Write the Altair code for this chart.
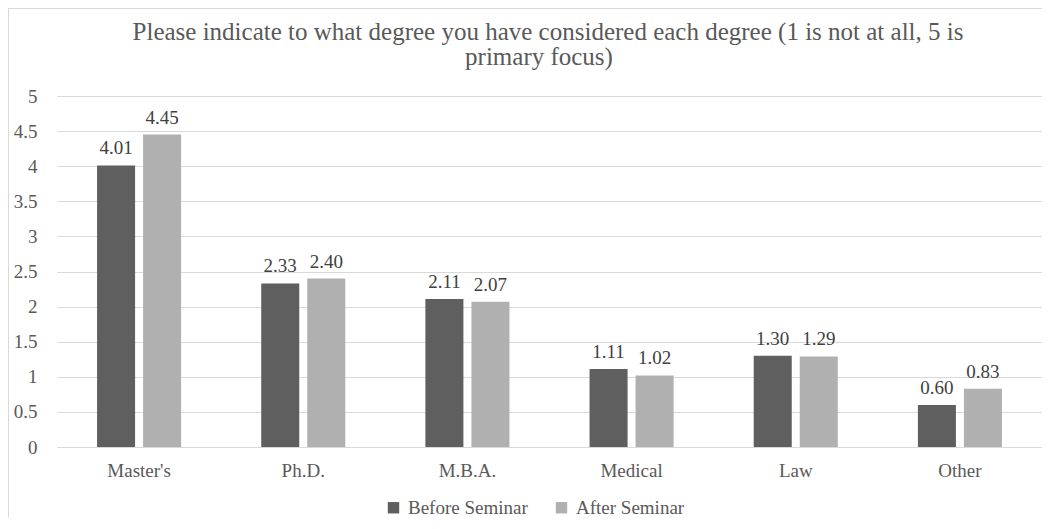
import altair as alt
import pandas as pd

categories = ["Master's", "Ph.D.", "M.B.A.", "Medical", "Law", "Other"]
series = ["Before Seminar", "After Seminar"]
before = [4.01, 2.33, 2.11, 1.11, 1.30, 0.60]
after = [4.45, 2.40, 2.07, 1.02, 1.29, 0.83]
y_ticks = [0, 0.5, 1, 1.5, 2, 2.5, 3, 3.5, 4, 4.5, 5]
title_lines = ["Please indicate to what degree you have considered each degree (1 is not at all, 5 is",
               "primary focus)"]

rows = []
for c, b, a in zip(categories, before, after):
    rows.append({"cat": c, "series": series[0], "value": b})
    rows.append({"cat": c, "series": series[1], "value": a})
df = pd.DataFrame(rows)

FONT = "'Liberation Serif', 'Times New Roman', serif"

x = alt.X("cat:N", sort=categories, title=None,
          scale=alt.Scale(paddingInner=0.488, paddingOuter=0.244),
          axis=alt.Axis(labelAngle=0, labelFontSize=19, labelColor="#595959",
                        labelFont=FONT, ticks=False, domain=False, labelPadding=14))
xo = alt.XOffset("series:N", sort=series,
                 scale=alt.Scale(paddingInner=0.174, paddingOuter=0))
y = alt.Y("value:Q", title=None,
          scale=alt.Scale(domain=[0, 5], nice=False),
          axis=alt.Axis(values=y_ticks, format=".1~f", labelFontSize=19,
                        labelColor="#595959", labelFont=FONT, ticks=False,
                        domain=False, labelPadding=20, gridColor="#d9d9d9"))

color = alt.Color("series:N", sort=series, title=None,
                  scale=alt.Scale(domain=series, range=["#5f5f5f", "#b0b0b0"]),
                  legend=alt.Legend(orient="none", legendX=327, legendY=402,
                                    direction="horizontal", symbolType="square",
                                    symbolSize=130, symbolStrokeWidth=0,
                                    labelFontSize=19, labelFont=FONT,
                                    labelColor="#595959", labelOffset=5,
                                    columnPadding=24))

bars = alt.Chart(df).mark_bar().encode(x=x, xOffset=xo, y=y, color=color)
labels = alt.Chart(df).mark_text(baseline="alphabetic", dy=-11, fontSize=19,
                                 font=FONT, color="#404040").encode(
    x=x, xOffset=xo, y=y, text=alt.Text("value:Q", format=".2f"))

title_df = pd.DataFrame({"t": title_lines, "line": [0, 1]})
title1 = alt.Chart(title_df).transform_filter("datum.line == 0").mark_text(
    font=FONT, fontSize=25, color="#595959", baseline="alphabetic", align="center",
    clip=False).encode(x=alt.value(491), y=alt.value(-56), text="t:N")
title2 = alt.Chart(title_df).transform_filter("datum.line == 1").mark_text(
    font=FONT, fontSize=25, color="#595959", baseline="alphabetic", align="center",
    clip=False).encode(x=alt.value(482), y=alt.value(-31), text="t:N")

border_top = alt.Chart(df).mark_rule(color="#d9d9d9", clip=False).encode(
    x=alt.value(-48.5), x2=alt.value(1000), y=alt.value(-87.5))
border_left = alt.Chart(df).mark_rule(color="#d9d9d9", clip=False).encode(
    x=alt.value(-48.5), y=alt.value(-87.5), y2=alt.value(440))

chart = alt.layer(border_top, border_left, bars, labels, title1, title2).properties(
    width=985, height=351,
    autosize=alt.AutoSizeParams(type="none"),
    padding={"left": 49, "top": 88, "right": 0, "bottom": 70},
).configure(font=FONT).configure_view(stroke=None).configure_text(
    font=FONT).configure_axis(labelFont=FONT).configure_legend(labelFont=FONT)

chart.save("out.html", embed_options={"renderer": "svg", "actions": False})
